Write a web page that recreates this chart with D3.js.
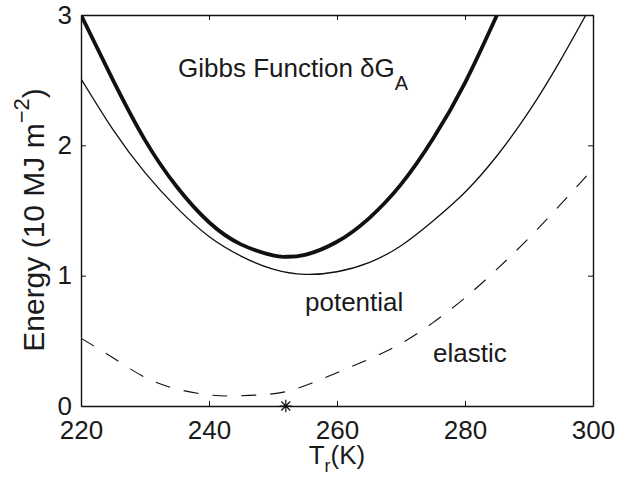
<!DOCTYPE html>
<html>
<head>
<meta charset="utf-8">
<script src="https://cdn.jsdelivr.net/npm/d3@7"></script>
<style>
  body { margin: 0; background: #fff; }
  text { font-family: "Liberation Sans", Arial, Helvetica, sans-serif; fill: #1a1a1a; }
</style>
</head>
<body>
<div id="viz"></div>
<script>
// tick values
var xTicks = [220, 240, 260, 280, 300];
var yTicks = [0, 1, 2, 3];

// Gibbs function (thick)
var gibbsT = [220, 225, 230, 235, 240, 245, 250, 252, 255, 260, 265, 270, 275, 280, 285];
var gibbsE = [3.00, 2.50, 2.04, 1.68, 1.41, 1.24, 1.155, 1.145, 1.16, 1.26, 1.44, 1.70, 2.05, 2.48, 3.00];

// potential (thin)
var potentialT = [220, 225, 230, 235, 240, 245, 250, 255, 260, 265, 270, 275, 280, 285, 290, 295, 300];
var potentialE = [2.51, 2.12, 1.79, 1.52, 1.30, 1.15, 1.05, 1.01, 1.03, 1.10, 1.23, 1.42, 1.64, 1.92, 2.26, 2.66, 3.10];

// elastic (dashed)
var elasticT = [220, 222, 225, 230, 235, 240, 244, 248, 252, 256, 260, 265, 270, 275, 280, 285, 290, 295, 300];
var elasticE = [0.52, 0.46, 0.37, 0.22, 0.13, 0.085, 0.077, 0.085, 0.11, 0.175, 0.255, 0.36, 0.48, 0.64, 0.83, 1.05, 1.29, 1.55, 1.82];

// star marker
var starT = [252];
var starE = [0];

var width = 629, height = 480;
var margin = {left: 81, right: 36, top: 15, bottom: 74};

var svg = d3.select("#viz").append("svg")
  .attr("width", width)
  .attr("height", height);

var x = d3.scaleLinear().domain([220, 300]).range([margin.left, width - margin.right]);
var y = d3.scaleLinear().domain([0, 3]).range([height - margin.bottom, margin.top]);

svg.append("clipPath").attr("id", "clip")
  .append("rect")
  .attr("x", x(220)).attr("y", y(3))
  .attr("width", x(300) - x(220)).attr("height", y(0) - y(3));

function zip(ts, es) {
  return ts.map(function(t, i) { return [t, es[i]]; });
}

var line = d3.line()
  .x(function(d) { return x(d[0]); })
  .y(function(d) { return y(d[1]); })
  .curve(d3.curveNatural);

var plot = svg.append("g").attr("clip-path", "url(#clip)");

plot.append("path")
  .attr("d", line(zip(elasticT, elasticE)))
  .attr("fill", "none").attr("stroke", "#111")
  .attr("stroke-width", 1.1)
  .attr("stroke-dasharray", "15,14");

plot.append("path")
  .attr("d", line(zip(potentialT, potentialE)))
  .attr("fill", "none").attr("stroke", "#111")
  .attr("stroke-width", 1.3);

plot.append("path")
  .attr("d", line(zip(gibbsT, gibbsE)))
  .attr("fill", "none").attr("stroke", "#111")
  .attr("stroke-width", 3.8);

// axes: inward ticks on all four sides
var fontSize = 26;
svg.append("g")
  .attr("transform", "translate(0," + y(0) + ")")
  .call(d3.axisBottom(x).tickValues(xTicks).tickSizeInner(-5).tickSizeOuter(0).tickPadding(15));
svg.append("g")
  .attr("transform", "translate(0," + y(3) + ")")
  .call(d3.axisTop(x).tickValues(xTicks).tickSizeInner(-5).tickSizeOuter(0).tickFormat(""));
svg.append("g")
  .attr("transform", "translate(" + x(220) + ",0)")
  .call(d3.axisLeft(y).tickValues(yTicks).tickFormat(d3.format("d")).tickSizeInner(-5).tickSizeOuter(0).tickPadding(9));
svg.append("g")
  .attr("transform", "translate(" + x(300) + ",0)")
  .call(d3.axisRight(y).tickValues(yTicks).tickSizeInner(-5).tickSizeOuter(0).tickFormat(""));

svg.selectAll(".domain").attr("stroke", "#111").attr("stroke-width", 1.4);
svg.selectAll(".tick line").attr("stroke", "#111").attr("stroke-width", 1);
svg.selectAll(".tick text")
  .attr("font-size", fontSize)
  .attr("font-family", "Liberation Sans, Arial, sans-serif")
  .attr("fill", "#1a1a1a");

// star marker at y = 0
var asterisk = {
  draw: function(context, size) {
    var r = Math.sqrt(size) / 2;
    var d = r * Math.SQRT1_2;
    context.moveTo(0, -r); context.lineTo(0, r);
    context.moveTo(-r, 0); context.lineTo(r, 0);
    context.moveTo(-d, -d); context.lineTo(d, d);
    context.moveTo(-d, d); context.lineTo(d, -d);
  }
};
svg.selectAll(".star")
  .data(zip(starT, starE))
  .enter().append("path")
  .attr("class", "star")
  .attr("transform", function(d) { return "translate(" + x(d[0]) + "," + y(d[1]) + ")"; })
  .attr("d", d3.symbol().type(asterisk).size(160))
  .attr("fill", "none").attr("stroke", "#111").attr("stroke-width", 1.2);

// x label  T_r(K)
var xl = svg.append("text")
  .attr("x", x(260))
  .attr("y", 464)
  .attr("text-anchor", "middle")
  .attr("font-size", fontSize);
xl.append("tspan").text("T");
xl.append("tspan").attr("font-size", 18).attr("dy", 8).text("r");
xl.append("tspan").attr("dy", -8).text("(K)");

// y label  Energy (10 MJ m^-2)
var yl = svg.append("text")
  .attr("transform", "translate(44,220) rotate(-90)")
  .attr("text-anchor", "middle")
  .attr("font-size", 30);
yl.append("tspan").text("Energy (10 MJ  m");
yl.append("tspan").attr("font-size", 22).attr("dy", -15).text("\u22122");
yl.append("tspan").attr("dy", 15).text(")");

// annotations
var gt = svg.append("text")
  .attr("x", 178)
  .attr("y", 77)
  .attr("font-size", fontSize);
gt.append("tspan").text("Gibbs Function \u03b4G");
gt.append("tspan").attr("font-size", 20).attr("dy", 13).text("A");

svg.append("text")
  .attr("x", 305).attr("y", 311)
  .attr("font-size", fontSize)
  .text("potential");

svg.append("text")
  .attr("x", 433).attr("y", 362)
  .attr("font-size", fontSize)
  .text("elastic");
</script>
</body>
</html>
